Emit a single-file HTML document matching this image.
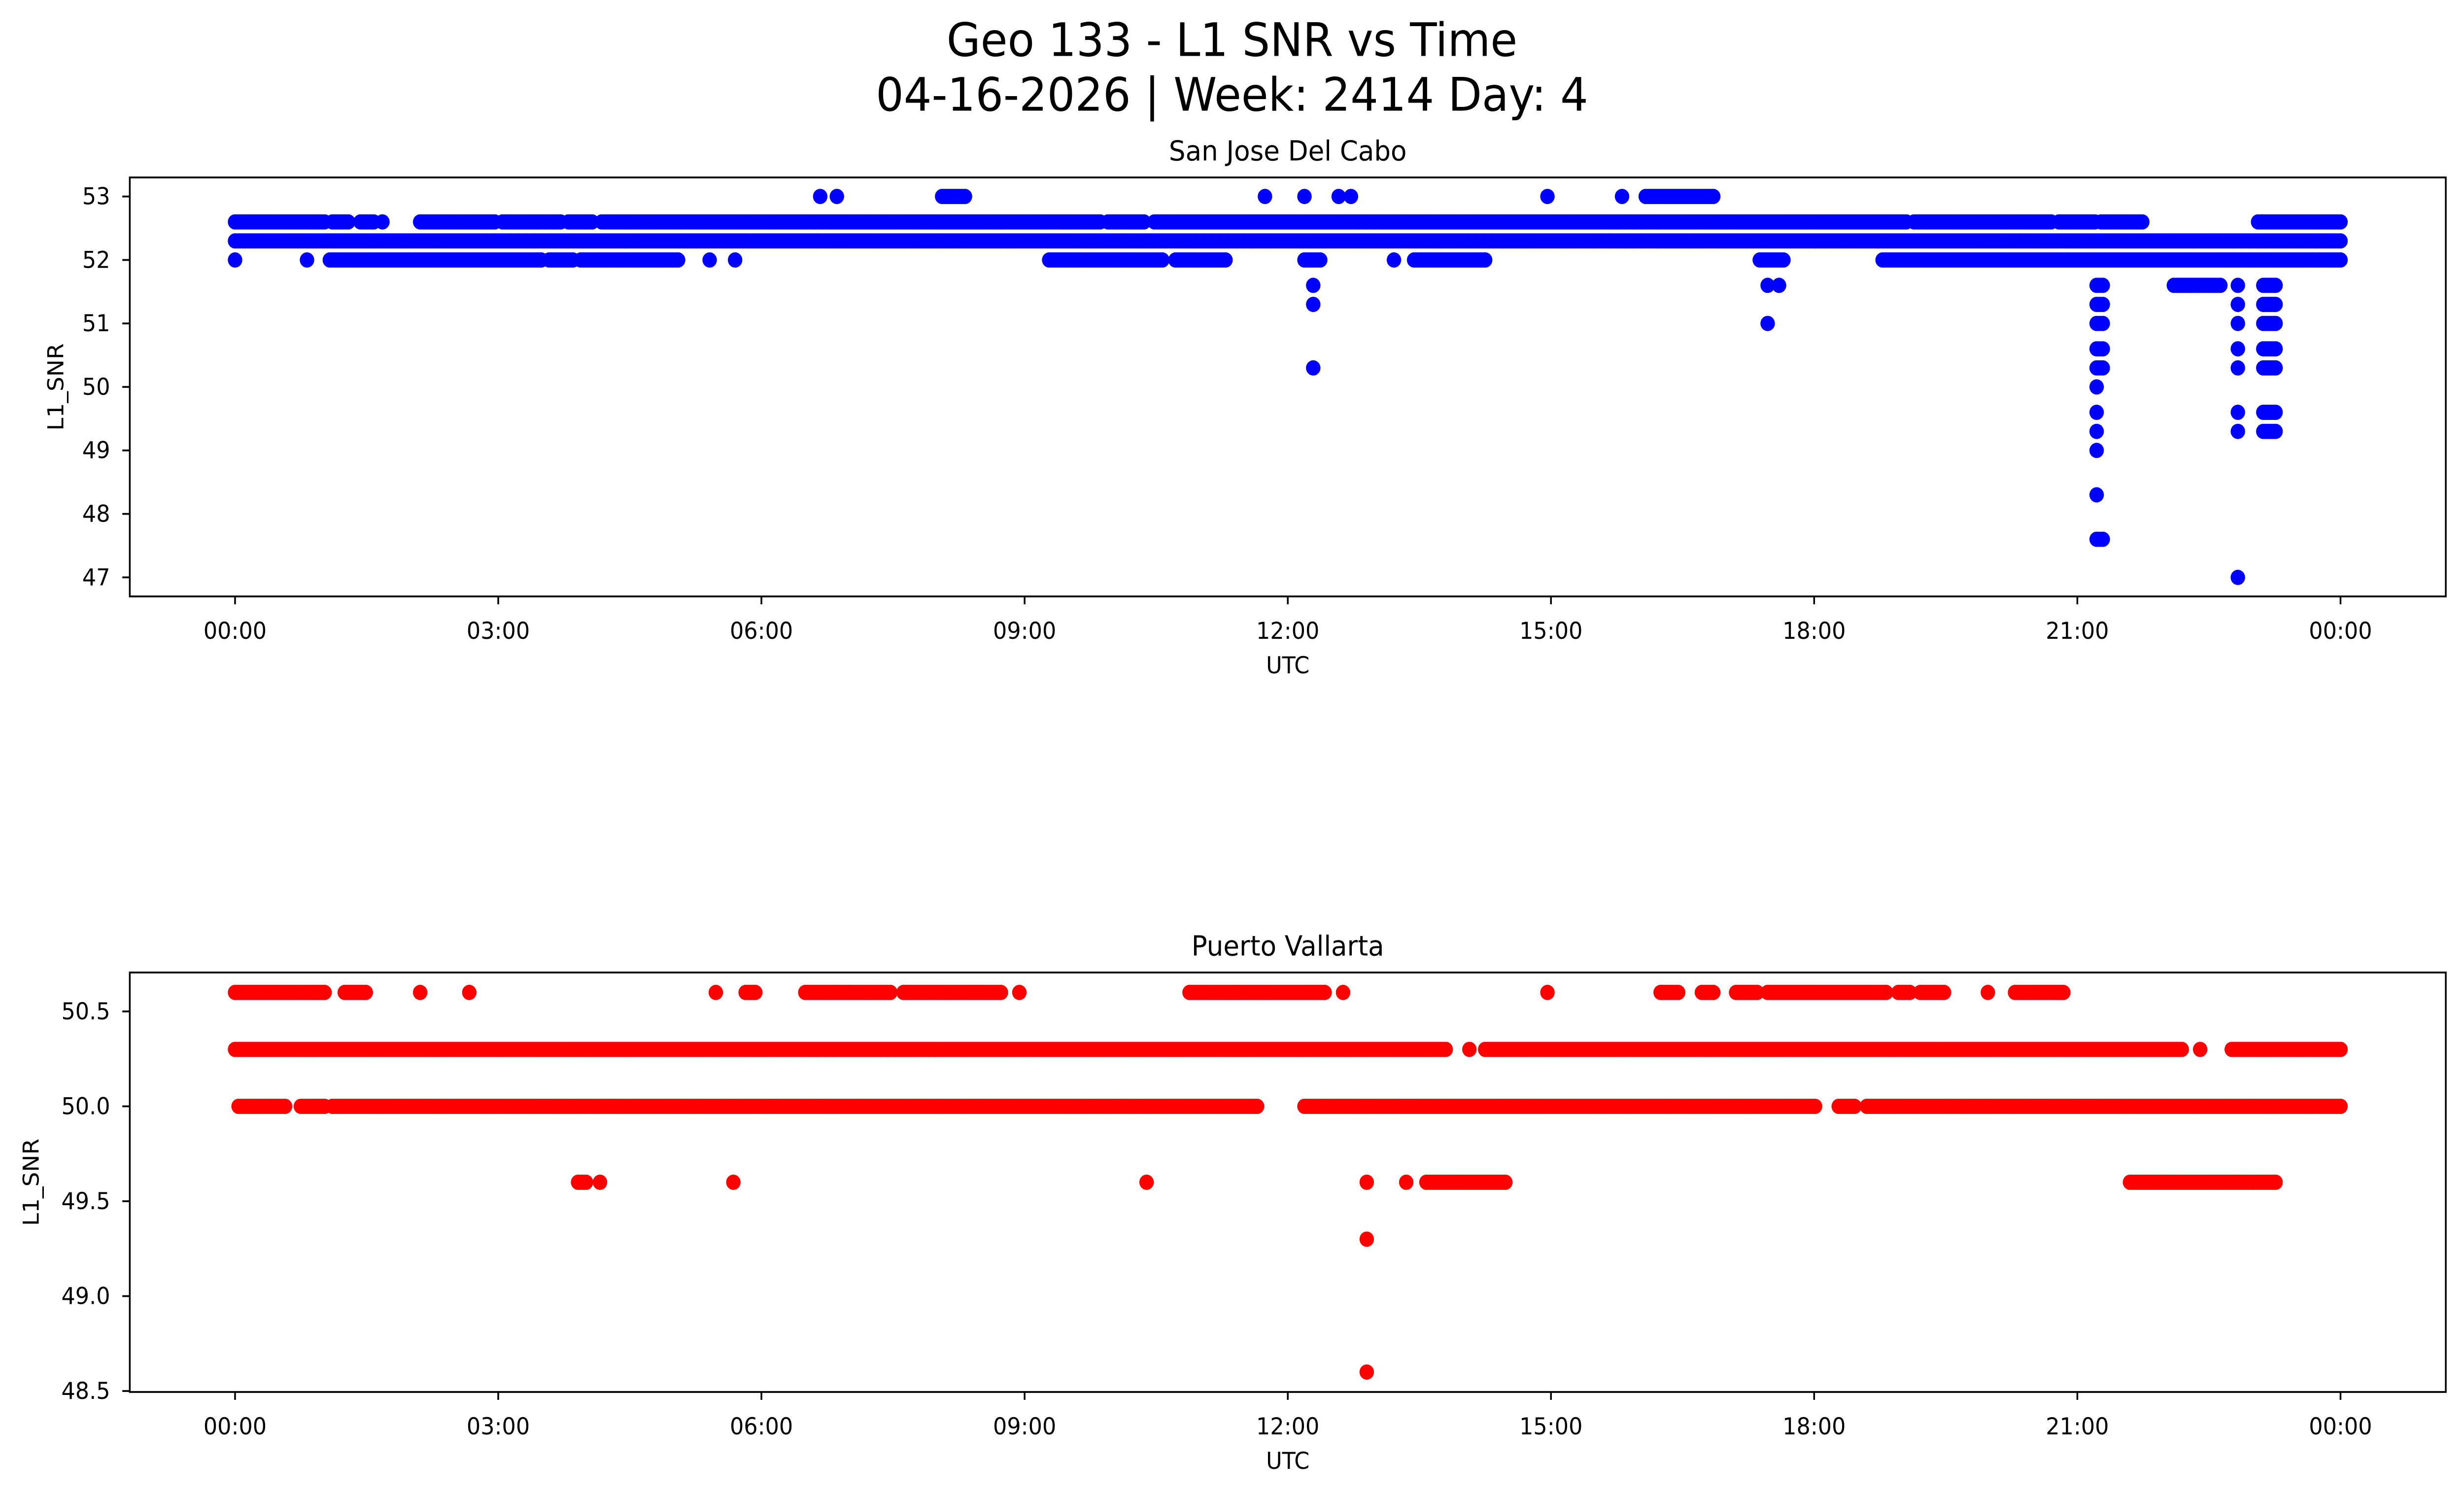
<!DOCTYPE html>
<html><head><meta charset="utf-8"><style>
html,body{margin:0;padding:0;background:#fff;overflow:hidden;width:100%;height:100%;}
svg{display:block;position:fixed;left:0;top:0;width:100vw;height:100vh;font-family:"DejaVu Sans","Liberation Sans",sans-serif;}
</style></head><body>
<svg id="fig" viewBox="0 0 5278 3033" preserveAspectRatio="none">
<rect width="5278" height="3033" fill="#fff"/>
<text x="2639" y="81" font-size="94" text-anchor="middle" dominant-baseline="central">Geo 133 - L1 SNR vs Time</text>
<text x="2639" y="192" font-size="94" text-anchor="middle" dominant-baseline="central">04-16-2026 | Week: 2414 Day: 4</text>
</svg>
<script>
// ---- data (hours UTC, SNR) ----
const xTickLabels = ["00:00","03:00","06:00","09:00","12:00","15:00","18:00","21:00","00:00"];
const xTickHours = [0,3,6,9,12,15,18,21,24];
const topYTicks = [47,48,49,50,51,52,53];
const botYTicks = [48.5,49.0,49.5,50.0,50.5];
const botYTickLabels = ["48.5","49.0","49.5","50.0","50.5"];

const sjStart = [0,1.11,1.43,1.68,2.11,3.05,3.80,4.18,9.95,10.48,19.14,20.79,21.27,23.06,
  0,
  0,0.82,1.08,3.58,3.94,5.41,5.70,9.28,10.72,12.19,13.21,13.44,17.38,18.78,
  6.67,6.86,8.06,11.74,12.19,12.58,12.72,14.96,15.81,16.08,
  12.29,12.29,12.29,17.47,17.47,17.6,
  21.22,21.22,21.22,21.22,21.22,21.22,21.22,21.22,21.22,21.22,21.22,
  22.1,
  22.83,22.83,22.83,22.83,22.83,22.83,22.83,22.83,
  23.12,23.12,23.12,23.12,23.12,23.12,23.12,23.1];
const sjEnd = [1.02,1.29,1.58,1.68,2.96,3.71,4.07,9.86,10.36,19.05,20.70,21.20,21.74,24,
  24,
  0,0.82,3.49,3.85,5.05,5.41,5.70,10.57,11.29,12.37,13.21,14.25,17.65,24,
  6.67,6.86,8.32,11.74,12.19,12.58,12.72,14.96,15.81,16.85,
  12.29,12.29,12.29,17.47,17.47,17.6,
  21.29,21.29,21.29,21.29,21.29,21.22,21.22,21.22,21.22,21.22,21.29,
  22.63,
  22.83,22.83,22.83,22.83,22.83,22.83,22.83,22.83,
  23.26,23.26,23.26,23.26,23.26,23.26,23.26,23.1];
const sjValue = [52.6,52.6,52.6,52.6,52.6,52.6,52.6,52.6,52.6,52.6,52.6,52.6,52.6,52.6,
  52.3,
  52.0,52.0,52.0,52.0,52.0,52.0,52.0,52.0,52.0,52.0,52.0,52.0,52.0,52.0,
  53,53,53,53,53,53,53,53,53,53,
  51.6,51.3,50.3,51.6,51.0,51.6,
  51.6,51.3,51.0,50.6,50.3,50.0,49.6,49.3,49.0,48.3,47.6,
  51.6,
  51.6,51.3,51.0,50.6,50.3,49.6,49.3,47.0,
  51.6,51.3,51.0,50.6,50.3,49.6,49.3,52.6];

const pvStart = [0,1.25,2.11,2.67,5.48,5.82,6.5,7.62,8.94,10.88,12.63,14.96,16.25,16.72,17.11,17.47,18.96,19.21,19.98,20.29,
  0,14.07,14.25,22.4,22.76,
  0.04,0.75,1.11,12.19,18.28,18.6,
  3.91,4.16,5.68,10.39,12.9,13.35,13.58,21.6,
  12.9,12.9];
const pvEnd = [1.02,1.49,2.11,2.67,5.48,5.93,7.47,8.73,8.94,12.42,12.63,14.96,16.45,16.85,17.35,18.82,19.09,19.48,19.98,20.84,
  13.8,14.07,22.19,22.4,24,
  0.57,1.02,11.65,18.01,18.46,24,
  4.0,4.16,5.68,10.39,12.9,13.35,14.48,23.26,
  12.9,12.9];
const pvValue = [50.6,50.6,50.6,50.6,50.6,50.6,50.6,50.6,50.6,50.6,50.6,50.6,50.6,50.6,50.6,50.6,50.6,50.6,50.6,50.6,
  50.3,50.3,50.3,50.3,50.3,
  50.0,50.0,50.0,50.0,50.0,50.0,
  49.6,49.6,49.6,49.6,49.6,49.6,49.6,49.6,
  49.3,48.6];

const NS="http://www.w3.org/2000/svg";
const svg=document.getElementById('fig');
const X0=278, X1=5239, XMIN=-1.2, XMAX=25.2;
function xScale(h){return X0+(h-XMIN)/(XMAX-XMIN)*(X1-X0);}
function mk(tag,attrs,parent){const e=document.createElementNS(NS,tag);for(const k in attrs)e.setAttribute(k,attrs[k]);(parent||svg).appendChild(e);return e;}

function panel(cfg){
  const g=mk('g',{});
  
  
  const yScale=v=>cfg.y1-(v-cfg.ymin)/(cfg.ymax-cfg.ymin)*(cfg.y1-cfg.y0);
  const marks=mk('g',{fill:cfg.color},g);
  
  
  const step=0.03;
  for(let i=0;i<cfg.s.length;i++){
    const n=Math.max(0,Math.round((cfg.e[i]-cfg.s[i])/step));
    for(let k=0;k<=n;k++){
      const h=n?cfg.s[i]+(cfg.e[i]-cfg.s[i])*k/n:cfg.s[i];
      const c=mk('circle',{cx:xScale(h).toFixed(1),cy:yScale(cfg.v[i]).toFixed(1),r:15.5},marks);
      
      
    }
  }
  const frame=mk('rect',{x:X0,y:cfg.y0,width:X1-X0,height:cfg.y1-cfg.y0,fill:'none',stroke:'#000','stroke-width':3.7},g);
  
  
  for(let i=0;i<xTickHours.length;i++){
    const x=xScale(xTickHours[i]);
    const t=mk('line',{x1:x,x2:x,y1:cfg.y1,y2:cfg.y1+16,stroke:'#000','stroke-width':3.7},g);
    
    
    const l=mk('text',{x:x,y:cfg.y1+70,'font-size':47,'text-anchor':'middle','dominant-baseline':'central'},g);
    l.textContent=xTickLabels[i];
    
    
  }
  for(let i=0;i<cfg.yt.length;i++){
    const y=yScale(cfg.yt[i]);
    const t=mk('line',{x1:X0-16,x2:X0,y1:y,y2:y,stroke:'#000','stroke-width':3.7},g);
    
    
    const l=mk('text',{x:X0-42,y:y,'font-size':47,'text-anchor':'end','dominant-baseline':'central'},g);
    l.textContent=cfg.ytl[i];
    
    
  }
  const xl=mk('text',{x:(X0+X1)/2,y:cfg.y1+140,'font-size':47,'text-anchor':'middle','dominant-baseline':'central'},g);
  xl.textContent='UTC';
  
  
  const yc=(cfg.y0+cfg.y1)/2;
  const yl=mk('text',{x:cfg.ylx,y:yc,'font-size':47,'text-anchor':'middle','dominant-baseline':'central',transform:`rotate(-90 ${cfg.ylx} ${yc})`},g);
  yl.textContent='L1_SNR';
  
  
  const tt=mk('text',{x:(X0+X1)/2,y:cfg.y0-54,'font-size':56,'text-anchor':'middle','dominant-baseline':'central'},g);
  tt.textContent=cfg.title;
  
  
}
panel({name:'san-jose-panel',title:'San Jose Del Cabo',y0:360,y1:1210,ymin:46.7,ymax:53.3,color:'#0000ff',
  s:sjStart,e:sjEnd,v:sjValue,yt:topYTicks,ytl:topYTicks.map(String),ylx:120});
panel({name:'puerto-vallarta-panel',title:'Puerto Vallarta',y0:1973,y1:2824,ymin:48.495,ymax:50.705,color:'#ff0000',
  s:pvStart,e:pvEnd,v:pvValue,yt:botYTicks,ytl:botYTickLabels,ylx:67});
</script>
</body></html>
